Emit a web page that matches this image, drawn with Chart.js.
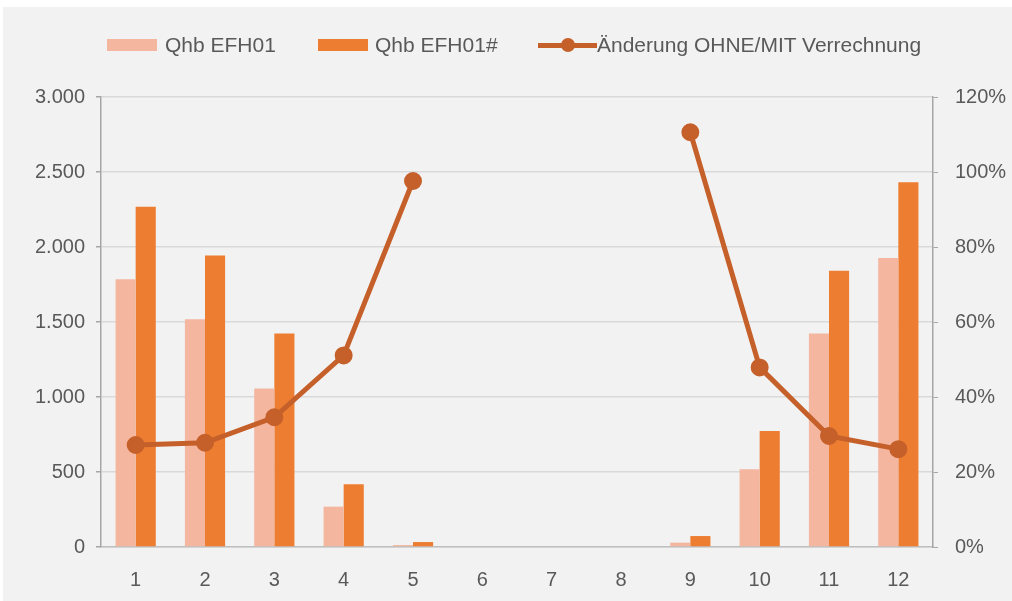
<!DOCTYPE html>
<html>
<head>
<meta charset="utf-8">
<script src="https://cdn.jsdelivr.net/npm/chart.js@4/dist/chart.umd.min.js"></script>
<style>
  html, body { margin: 0; padding: 0; background: #fff; }
  #wrap { position: relative; width: 1012px; height: 601px; }
  #legend { position: absolute; top: 33px; left: 0; width: 1012px; height: 24px;
    font-family: 'Liberation Sans', Arial, sans-serif; font-size: 21px; color: #595959; }
  .item { position: absolute; top: 0; line-height: 24px; white-space: nowrap; }
  .box { position: absolute; top: 6px; width: 50px; height: 12px; }
  .ln { position: absolute; top: 10px; width: 59px; height: 5px; background: #C6602A; }
  .dot { position: absolute; top: 5px; left: 23px; width: 14px; height: 14px; border-radius: 50%; background: #C6602A; }
</style>
</head>
<body>
<div id="wrap">
  <canvas id="chart" width="1012" height="601"></canvas>
  <div id="legend">
    <div class="item" style="left:107px"><span class="box" style="background:#F4B69F"></span><span style="position:absolute;left:58px">Qhb EFH01</span></div>
    <div class="item" style="left:318px"><span class="box" style="background:#ED7D31"></span><span style="position:absolute;left:57px">Qhb EFH01#</span></div>
    <div class="item" style="left:538px"><span class="ln"></span><span class="dot"></span><span style="position:absolute;left:59px">Änderung OHNE/MIT Verrechnung</span></div>
  </div>
</div>
<script>
const months = ['1', '2', '3', '4', '5', '6', '7', '8', '9', '10', '11', '12']
const qhbOhne = [1785, 1518, 1056, 269, 13, 0, 0, 0, 29, 518, 1424, 1927]
const qhbMit = [2269, 1944, 1424, 418, 33, 0, 0, 0, 73, 773, 1842, 2431]
const aenderung = [0.272, 0.278, 0.346, 0.511, 0.976, null, null, null, 1.106, 0.479, 0.296, 0.261]

const gray = '#595959'
const font = { family: "'Liberation Sans', Arial, sans-serif", size: 20 }

function fmtThousands(v) {
  return String(v).replace(/\B(?=(\d{3})+(?!\d))/g, '.')
}

const bgPlugin = {
  id: 'bg',
  beforeDraw(chart) {
    const ctx = chart.ctx
    ctx.save()
    ctx.fillStyle = '#F2F2F2'
    ctx.fillRect(3, 7, chart.width - 3, chart.height - 7)
    ctx.restore()
  },
}

const ctx = document.getElementById('chart').getContext('2d')

new Chart(ctx, {
  type: 'bar',
  data: {
    labels: months,
    datasets: [
      {
        type: 'line',
        label: 'Änderung OHNE/MIT Verrechnung',
        data: aenderung,
        yAxisID: 'y1',
        borderColor: '#C6602A',
        backgroundColor: '#C6602A',
        borderWidth: 5,
        pointRadius: 6.5,
        pointHoverRadius: 6.5,
        spanGaps: false,
        tension: 0,
        order: 0,
      },
      {
        label: 'Qhb EFH01',
        data: qhbOhne,
        backgroundColor: '#F4B69F',
        yAxisID: 'y',
        categoryPercentage: 0.58,
        barPercentage: 1,
        order: 1,
      },
      {
        label: 'Qhb EFH01#',
        data: qhbMit,
        backgroundColor: '#ED7D31',
        yAxisID: 'y',
        categoryPercentage: 0.58,
        barPercentage: 1,
        order: 1,
      },
    ],
  },
  options: {
    responsive: false,
    animation: false,
    layout: { padding: { top: 97, left: 0, right: 0, bottom: 0 } },
    plugins: {
      legend: { display: false },
      tooltip: { enabled: false },
    },
    scales: {
      x: {
        grid: { display: false },
        border: { color: '#BFBFBF', width: 1.5 },
        ticks: { color: gray, font: font, padding: 13 },
        afterFit(scale) { scale.height = 54 },
      },
      y: {
        position: 'left',
        min: 0,
        max: 3000,
        ticks: { stepSize: 500, color: gray, font: font, padding: 11, callback: (v) => fmtThousands(v) },
        grid: { color: '#D9D9D9', lineWidth: 1.5, tickLength: 5, tickColor: '#A6A6A6' },
        border: { color: '#A6A6A6', width: 1.5 },
        afterFit(scale) { scale.width = 101 },
      },
      y1: {
        position: 'right',
        min: 0,
        max: 1.2,
        ticks: { stepSize: 0.2, color: gray, font: font, padding: 17, callback: (v) => Math.round(v * 100) + '%' },
        grid: { drawOnChartArea: false, tickLength: 5, tickColor: '#A6A6A6' },
        border: { color: '#A6A6A6', width: 1.5 },
        afterFit(scale) { scale.width = 79 },
      },
    },
  },
  plugins: [bgPlugin],
})
</script>
</body>
</html>
